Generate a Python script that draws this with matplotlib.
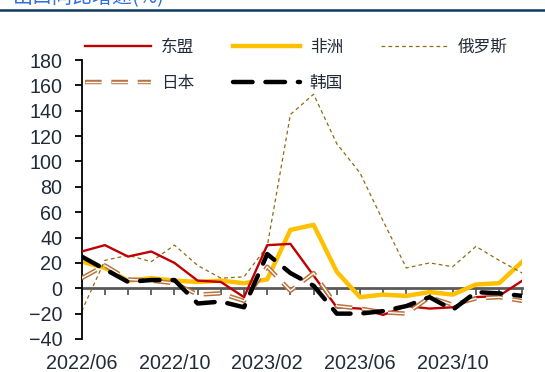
import matplotlib
matplotlib.use("Agg")
import matplotlib.pyplot as plt
import matplotlib.patheffects as pe
from matplotlib.lines import Line2D
from matplotlib.transforms import blended_transform_factory

plt.rcParams['font.family'] = ['Liberation Sans', 'Noto Sans CJK SC', 'DejaVu Sans']

# monthly series, 2022/06 .. 2024/01, yoy growth (%)
months = ['2022/06', '2022/07', '2022/08', '2022/09', '2022/10', '2022/11', '2022/12',
          '2023/01', '2023/02', '2023/03', '2023/04', '2023/05', '2023/06', '2023/07',
          '2023/08', '2023/09', '2023/10', '2023/11', '2023/12', '2024/01']
asean = [29, 34, 25, 29, 20, 6, 5, -7, 34, 35, 10, -15, -16, -21, -14, -16, -15, -7, -6, 6]
africa = [21, 16, 6, 8, 6, 5, 6, 4, 7, 46, 50, 13, -7, -5, -6, -3, -5, 3, 4, 21]
russia = [-18, 22, 26, 21, 34, 18, 8, 9, 33, 137, 153, 114, 91, 53, 16, 20, 17, 33, 22, 12]
japan = [8, 18, 7, 6, 4, -5, -4, -10, 17, -2, 12, -14, -16, -19, -20, -7, -13, -8, -7, -10]
korea = [25, 15, 5, 6.5, 6.5, -12, -10.5, -15, 27, 12, 2, -20, -20, -18, -14, -7, -17, -3, -4, -6]

tick_labels = ['2022/06', '2022/10', '2023/02', '2023/06', '2023/10']
y_ticks = [-40, -20, 0, 20, 40, 60, 80, 100, 120, 140, 160, 180]

W, H = 545, 372
fig = plt.figure(figsize=(W / 100, H / 100), dpi=100)
ax = fig.add_axes([81.7 / W, 1 - 339 / H, (522.3 - 81.7) / W, (339 - 60) / H])

x = list(range(len(months)))
text_col = '#232b38'

l_asean, = ax.plot(x, asean, color='#c00000', lw=1.7, label='东盟', zorder=3)
l_africa, = ax.plot(x, africa, color='#ffc000', lw=3.2, label='非洲', zorder=2)
l_russia, = ax.plot(x, russia, color='#8c6d12', lw=0.9, dashes=(3, 2.5), label='俄罗斯', zorder=2)
l_japan, = ax.plot(x, japan, color='white', lw=1.0, dashes=(12, 7), label='日本', zorder=3,
                   path_effects=[pe.Stroke(linewidth=3.2, foreground='#b8733f'), pe.Normal()])
l_korea, = ax.plot(x, korea, color='black', lw=3.2, dashes=(4.4, 2.9), dash_capstyle='round',
                   label='韩国', zorder=4)

ax.set_xlim(0, len(months) - 1)
ax.set_ylim(-40, 180)

# zero line doubles as the x axis, labels sit at the bottom
for s in ['top', 'right']:
    ax.spines[s].set_visible(False)
ax.spines['bottom'].set_position(('data', 0))
ax.spines['bottom'].set_color('#595959')
ax.spines['bottom'].set_linewidth(2)
ax.spines['bottom'].set_zorder(1)
ax.spines['left'].set_linewidth(1.3)
ax.set_xticks(x)
ax.tick_params(axis='x', direction='out', length=5, width=1.3, color='#595959',
               labelbottom=False)
ax.set_yticks(y_ticks)
ax.tick_params(axis='y', direction='out', length=5, width=1.3, labelsize=14.2,
               labelcolor=text_col, pad=9)

trans = blended_transform_factory(ax.transData, ax.transAxes)
for lab in tick_labels:
    ax.text(months.index(lab), -0.052, lab, transform=trans, ha='center', va='top',
            fontsize=14.2, color=text_col)

# legend fills column by column: 东盟/日本, 非洲/韩国, 俄罗斯
order = [l_asean, l_japan, l_africa, l_korea, l_russia]
leg = fig.legend(order, [h.get_label() for h in order], ncol=3, loc='upper left',
                 bbox_to_anchor=(78 / W, 1 - 32 / H), frameon=False,
                 prop={'family': 'Noto Sans CJK SC', 'size': 12},
                 handlelength=4.0, handletextpad=0.6, columnspacing=2.3,
                 labelspacing=1.15, borderaxespad=0)
for t in leg.get_texts():
    t.set_color(text_col)

# header strip: title mostly cut off above, rule below it
fig.text(13 / W, 1 - 8 / H, '出口同比增速(%)', ha='left', va='bottom', color='#2f6fe0',
         fontsize=14.4, family=['Noto Sans CJK SC', 'DejaVu Sans'])
fig.add_artist(Line2D([0, 1], [1 - 10 / H] * 2, transform=fig.transFigure,
                      color='#0d3a60', lw=1.8))

fig.savefig('out.png', dpi=100)
